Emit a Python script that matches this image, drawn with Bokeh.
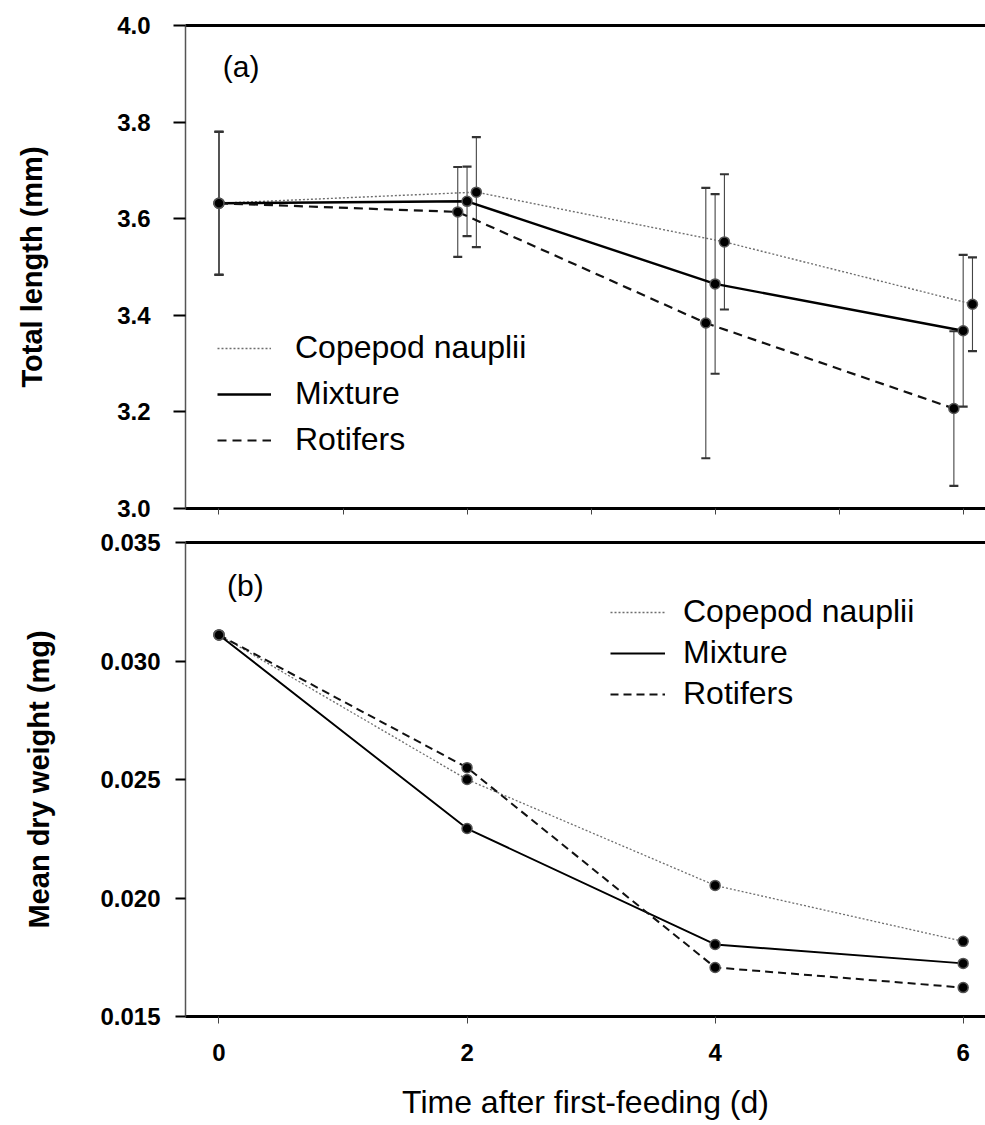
from bokeh.plotting import figure
from bokeh.layouts import column
from bokeh.models import (ColumnDataSource, Whisker, TeeHead, FixedTicker, PrintfTickFormatter,
                          LinearAxis, Range1d, Legend, LegendItem, Label, CustomJSTickFormatter)
from bokeh.embed import file_html
from bokeh.resources import INLINE

# ---- data ----
days = [0, 2, 4, 6]
series = ["Copepod nauplii", "Mixture", "Rotifers"]

# (a) total length, mm (mean and error)
length_copepod = [3.632, 3.655, 3.552, 3.423]
length_copepod_err = [0.148, 0.114, 0.140, 0.097]
length_mixture = [3.632, 3.636, 3.465, 3.368]
length_mixture_err = [0.148, 0.072, 0.186, 0.157]
length_rotifers = [3.632, 3.614, 3.384, 3.207]
length_rotifers_err = [0.148, 0.093, 0.280, 0.160]

# (b) mean dry weight, mg
weight_copepod = [0.0311, 0.0250, 0.02053, 0.01817]
weight_mixture = [0.0311, 0.02293, 0.01804, 0.01724]
weight_rotifers = [0.0311, 0.0255, 0.01707, 0.01622]

length_ticks = [3.0, 3.2, 3.4, 3.6, 3.8, 4.0]
weight_ticks = [0.015, 0.020, 0.025, 0.030, 0.035]

FONT = "Liberation Sans"
W = 985
X_RANGE = (-0.27, 6.18)

# horizontal nudge so overlapping error bars in (a) stay readable
nudge = {"Copepod nauplii": 0.075, "Mixture": 0.0, "Rotifers": -0.075}

styles = {
    "Copepod nauplii": dict(line_color="#6e6e6e", line_width=1.4, line_dash="2 2"),
    "Mixture": dict(line_color="black", line_width=2.4, line_dash="solid"),
    "Rotifers": dict(line_color="#111111", line_width=2.2, line_dash="9 6"),
}


def frame_lines(p):
    # heavy rule along the top edge of the frame
    top = LinearAxis(ticker=FixedTicker(ticks=[]), axis_line_width=3, axis_line_color="black",
                     major_tick_out=0, major_tick_in=0, minor_tick_out=0, minor_tick_in=0,
                     major_label_standoff=0)
    p.add_layout(top, "above")
    p.outline_line_color = None
    p.xgrid.visible = False
    p.ygrid.visible = False


def style_left_axis(ax, ticks, fmt, label, tick_out, label_standoff, title_standoff):
    ax.ticker = FixedTicker(ticks=ticks)
    ax.formatter = PrintfTickFormatter(format=fmt)
    ax.axis_line_color = "#555555"
    ax.axis_line_width = 1.5
    ax.major_tick_out = tick_out
    ax.major_tick_in = 0
    ax.major_tick_line_width = 2
    ax.major_tick_line_color = "black"
    ax.minor_tick_out = 0
    ax.minor_tick_in = 0
    ax.major_label_text_font = FONT
    ax.major_label_text_font_style = "bold"
    ax.major_label_text_font_size = "24px"
    ax.major_label_text_color = "black"
    ax.major_label_standoff = label_standoff
    ax.axis_label = label
    ax.axis_label_text_font = FONT
    ax.axis_label_text_font_style = "bold"
    ax.axis_label_text_font_size = "29px"
    ax.axis_label_text_color = "black"
    ax.axis_label_standoff = title_standoff


# ---------------- panel (a) ----------------
pa = figure(width=W, height=525, output_backend="svg", toolbar_location=None,
            x_range=Range1d(*X_RANGE), y_range=Range1d(3.0, 4.0),
            min_border_left=185, min_border_right=0, min_border_top=25, min_border_bottom=17)
xa = pa.below[0]
style_left_axis(pa.left[0], length_ticks, "%.1f", "Total length (mm)", 12, 23, 66)
frame_lines(pa)

xa.ticker = FixedTicker(ticks=list(range(0, 7)))
xa.formatter = CustomJSTickFormatter(code="return ''")
xa.axis_line_width = 3
xa.axis_line_color = "black"
xa.major_tick_out = 6
xa.major_tick_in = 0
xa.major_tick_line_color = "#444444"
xa.minor_tick_out = 0
xa.minor_tick_in = 0

length_data = {
    "Copepod nauplii": (length_copepod, length_copepod_err),
    "Mixture": (length_mixture, length_mixture_err),
    "Rotifers": (length_rotifers, length_rotifers_err),
}

legend_a = []
for name in series:
    vals, errs = length_data[name]
    xs = [d + (nudge[name] if d > 0 else 0.0) for d in days]
    src = ColumnDataSource(dict(x=xs, y=vals,
                                upper=[v + e for v, e in zip(vals, errs)],
                                lower=[v - e for v, e in zip(vals, errs)]))
    wh = Whisker(base="x", upper="upper", lower="lower", source=src, dimension="height",
                 line_color="#444444", line_width=1.1,
                 upper_head=TeeHead(size=9, line_width=2.2, line_color="#333333"),
                 lower_head=TeeHead(size=9, line_width=2.2, line_color="#333333"))
    pa.add_layout(wh)
    r = pa.line("x", "y", source=src, **styles[name])
    pa.scatter("x", "y", source=src, size=10, fill_color="black", line_color="#555555", line_width=1.5)
    legend_a.append(LegendItem(label=name, renderers=[r]))

leg_a = Legend(items=legend_a, location=(32, 50), orientation="vertical",
               border_line_color=None, background_fill_alpha=0, padding=0, margin=0,
               glyph_width=54, glyph_height=20, label_standoff=24, spacing=9,
               label_text_font=FONT, label_text_font_size="32px", label_text_color="black")
pa.add_layout(leg_a)

pa.add_layout(Label(x=0.03, y=3.915, text="(a)", text_font=FONT, text_font_size="30px",
                    text_baseline="middle", text_color="black"))

# ---------------- panel (b) ----------------
pb = figure(width=W, height=600, output_backend="svg", toolbar_location=None,
            x_range=Range1d(*X_RANGE), y_range=Range1d(0.015, 0.035),
            min_border_left=185, min_border_right=0, min_border_top=17, min_border_bottom=109)
xb = pb.below[0]
style_left_axis(pb.left[0], weight_ticks, "%.3f", "Mean dry weight (mg)", 10, 15, 42)
frame_lines(pb)

xb.ticker = FixedTicker(ticks=days)
xb.axis_line_width = 3
xb.axis_line_color = "black"
xb.major_tick_out = 7
xb.major_tick_in = 0
xb.major_tick_line_color = "#444444"
xb.minor_tick_out = 0
xb.minor_tick_in = 0
xb.major_label_text_font = FONT
xb.major_label_text_font_style = "bold"
xb.major_label_text_font_size = "24px"
xb.major_label_text_color = "black"
xb.major_label_standoff = 20
xb.axis_label = "Time after first-feeding (d)"
xb.axis_label_text_font = FONT
xb.axis_label_text_font_style = "normal"
xb.axis_label_text_font_size = "32px"
xb.axis_label_text_color = "black"
xb.axis_label_standoff = 20

weight_data = {
    "Copepod nauplii": weight_copepod,
    "Mixture": weight_mixture,
    "Rotifers": weight_rotifers,
}
styles_b = {
    "Copepod nauplii": dict(line_color="#6e6e6e", line_width=1.3, line_dash="2 2"),
    "Mixture": dict(line_color="black", line_width=1.9, line_dash="solid"),
    "Rotifers": dict(line_color="#111111", line_width=2.0, line_dash="8 5"),
}

legend_b = []
for name in series:
    src = ColumnDataSource(dict(x=days, y=weight_data[name]))
    r = pb.line("x", "y", source=src, **styles_b[name])
    pb.scatter("x", "y", source=src, size=10, fill_color="black", line_color="#555555", line_width=1.5)
    legend_b.append(LegendItem(label=name, renderers=[r]))

leg_b = Legend(items=legend_b, location=(425, 304), orientation="vertical",
               border_line_color=None, background_fill_alpha=0, padding=0, margin=0,
               glyph_width=55, glyph_height=20, label_standoff=18, spacing=4,
               label_text_font=FONT, label_text_font_size="32px", label_text_color="black")
pb.add_layout(leg_b)

pb.add_layout(Label(x=0.065, y=0.0332, text="(b)", text_font=FONT, text_font_size="30px",
                    text_baseline="middle", text_color="black"))

layout = column(pa, pb, spacing=0)
open("out.html", "w").write(file_html(layout, INLINE))
